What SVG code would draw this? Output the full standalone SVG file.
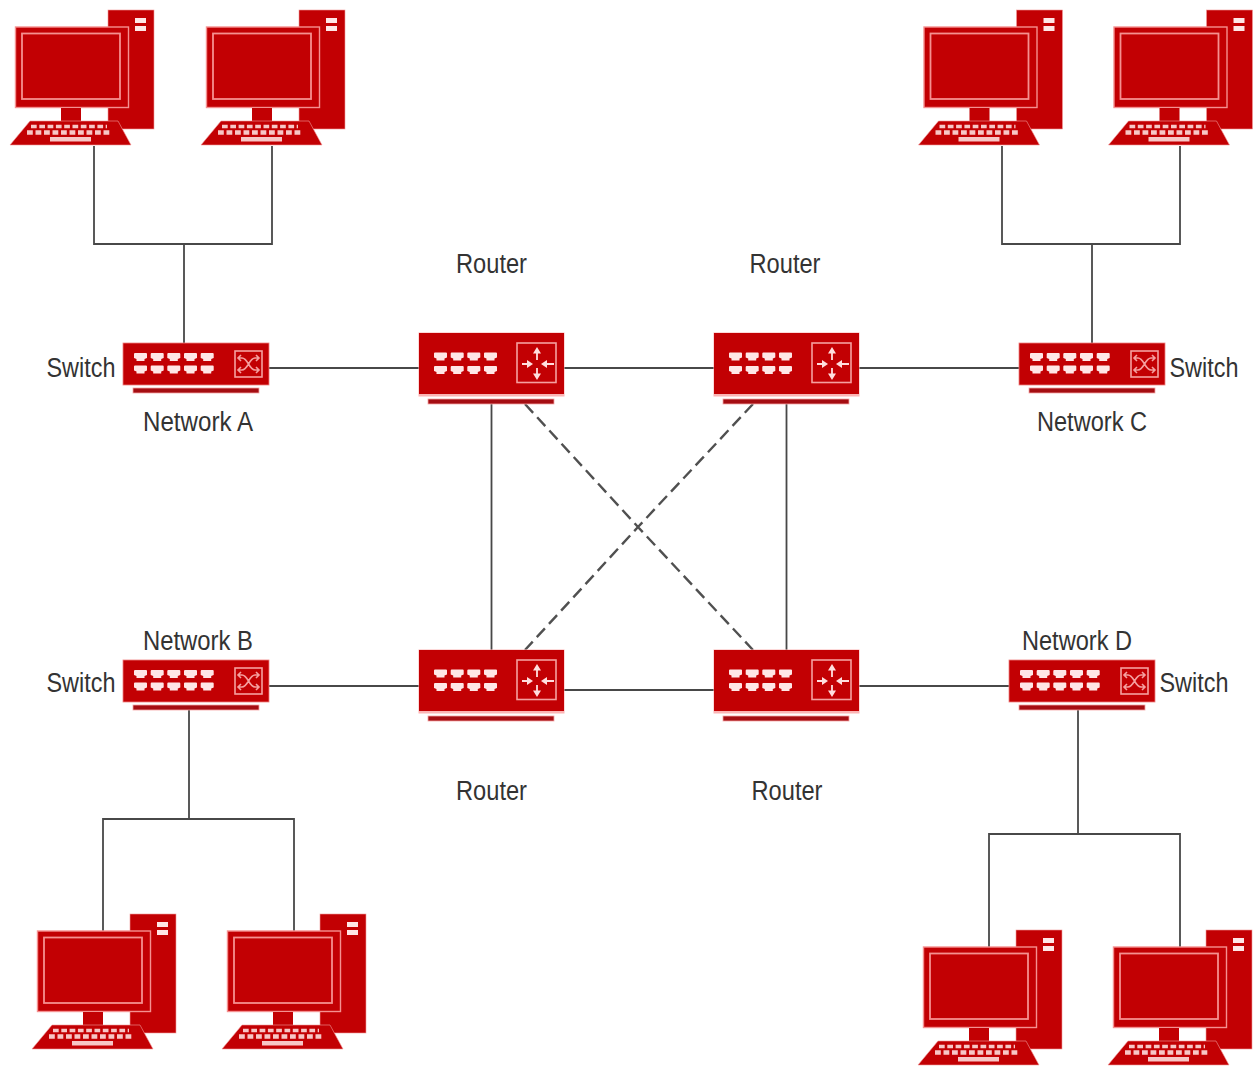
<svg xmlns="http://www.w3.org/2000/svg" width="1253" height="1066" viewBox="0 0 1253 1066">
<style>
.r{fill:#c20003}
.d{fill:#a50d12;stroke:#f5a5a5;stroke-width:.8}
.o{fill:none;stroke:#f59090;stroke-width:1.8}
.p{fill:#ffe6e6}
.ic{fill:none;stroke:#f5a0a0;stroke-width:1.6}
.a{fill:none;stroke:#ffdede;stroke-width:1.8}
.h{fill:#ffdede}
.w{stroke:#484848;stroke-width:1.8;fill:none}
.dash{stroke:#505050;stroke-width:2.4;stroke-dasharray:12 6}
text{font-family:"Liberation Sans",Arial,sans-serif;font-size:27px;fill:#333;text-anchor:middle}
</style>
<defs>
<g id="pc">
<rect class="r" x="108" y="10" width="46" height="119" stroke="#f29a9a" stroke-width=".6"/>
<rect x="135" y="18" width="11" height="5" class="p"/><rect x="135" y="26" width="11" height="5" class="p"/>
<rect class="r" x="15.500" y="27" width="113" height="80.500" stroke="#f59090" stroke-width="1.4"/>
<rect class="o" x="22" y="33.500" width="98" height="65.500"/>
<rect class="r" x="61" y="108" width="20" height="13"/>
<path class="r" stroke="#f29a9a" stroke-width=".6" d="M30 121H118L131 145H10Z"/>
<g stroke="#f7c6c6" fill="none">
<path stroke-width="3.600" stroke-dasharray="5.700 2.600" d="M31 126.500H107"/><path stroke-width="4.500" stroke-dasharray="5.800 2.700" d="M27 132.500H112"/>
</g>
<rect x="50" y="137" width="41" height="4.500" fill="#f7c6c6"/>
</g>
<path id="port" class="p" d="M0 1Q0 0 1 0H12Q13 0 13 1V5L10.500 6V8H2.500V6L0 5Z"/>
<g id="sw">
<rect class="r" x="0" y="0" width="146" height="42" stroke="#f08080" stroke-width=".8"/>
<rect class="d" x="10" y="45" width="126" height="5"/>
<use href="#port" x="11" y="10"/><use href="#port" x="27.700" y="10"/><use href="#port" x="44.300" y="10"/><use href="#port" x="61" y="10"/><use href="#port" x="77.700" y="10"/>
<use href="#port" x="11" y="22.500"/><use href="#port" x="27.700" y="22.500"/><use href="#port" x="44.300" y="22.500"/><use href="#port" x="61" y="22.500"/><use href="#port" x="77.700" y="22.500"/>
<rect class="ic" x="112" y="8" width="27" height="26"/>
<path class="ic" d="M115 15H119C125 15 126 27 132 27H136M115 27H119C125 27 126 15 132 15H136M133 12L136 15L133 18M133 24L136 27L133 30M118 12L115 15L118 18M118 24L115 27L118 30"/>
</g>
<g id="rt">
<rect x="-.5" y="-.5" width="146" height="64" fill="#fbb4b4"/>
<rect class="r" x="0" y="0" width="145" height="61"/>
<rect class="d" x="9" y="66" width="126" height="5"/>
<use href="#port" x="15" y="19.500"/><use href="#port" x="31.700" y="19.500"/><use href="#port" x="48.300" y="19.500"/><use href="#port" x="65" y="19.500"/>
<use href="#port" x="15" y="33"/><use href="#port" x="31.700" y="33"/><use href="#port" x="48.300" y="33"/><use href="#port" x="65" y="33"/>
<rect class="ic" x="98" y="10" width="39" height="39.500"/>
<path class="a" d="M118 20V27M118 35V42M103 31H110M135 31H128"/>
<path class="h" d="M118 14L122 20.500H114ZM118 47L114 40.500H122ZM114 31L108 35V27ZM122 31L128 27V35Z"/>
</g>
</defs>
<rect width="1253" height="1066" fill="#fff"/>
<g id="connectors" class="w">
<path class="w" d="M94 146V244H272V146M184 244V343"/>
<path class="w" d="M1002 146V244H1180V146M1092 244V343"/>
<path class="w" d="M103 934V819H294V934M189 710V819"/>
<path class="w" d="M989 950V834H1180V950M1078 710V834"/>
<path class="w" d="M269 368H419M564 368H714M859 368H1019"/>
<path class="w" d="M269 686H419M564 690H714M859 686H1009"/>
<path class="w" d="M491.500 404V650M786.500 404V650"/>
<path class="dash" d="M525 404L638 527L753 650M753 404L638 527L525 650"/>
</g>
<g id="pc-a1"><use href="#pc"/></g>
<g id="pc-a2"><use href="#pc" x="191"/></g>
<g id="pc-c1"><use href="#pc" x="908.500"/></g>
<g id="pc-c2"><use href="#pc" x="1098.500"/></g>
<g id="pc-b1"><use href="#pc" x="22" y="904"/></g>
<g id="pc-b2"><use href="#pc" x="212" y="904"/></g>
<g id="pc-d1"><use href="#pc" x="908" y="920"/></g>
<g id="pc-d2"><use href="#pc" x="1098" y="920"/></g>
<g id="switch-a"><use href="#sw" x="123" y="343"/><text x="81" y="377" textLength="69" lengthAdjust="spacingAndGlyphs">Switch</text><text x="198" y="431" textLength="110" lengthAdjust="spacingAndGlyphs">Network A</text></g>
<g id="switch-c"><use href="#sw" x="1019" y="343"/><text x="1204" y="377" textLength="69" lengthAdjust="spacingAndGlyphs">Switch</text><text x="1092" y="431" textLength="110" lengthAdjust="spacingAndGlyphs">Network C</text></g>
<g id="switch-b"><use href="#sw" x="123" y="660"/><text x="81" y="692" textLength="69" lengthAdjust="spacingAndGlyphs">Switch</text><text x="198" y="650" textLength="110" lengthAdjust="spacingAndGlyphs">Network B</text></g>
<g id="switch-d"><use href="#sw" x="1009" y="660"/><text x="1194" y="692" textLength="69" lengthAdjust="spacingAndGlyphs">Switch</text><text x="1077" y="650" textLength="110" lengthAdjust="spacingAndGlyphs">Network D</text></g>
<g id="router-1"><use href="#rt" x="419" y="333"/><text x="491.500" y="273" textLength="71" lengthAdjust="spacingAndGlyphs">Router</text></g>
<g id="router-2"><use href="#rt" x="714" y="333"/><text x="785" y="273" textLength="71" lengthAdjust="spacingAndGlyphs">Router</text></g>
<g id="router-3"><use href="#rt" x="419" y="650"/><text x="491.500" y="800" textLength="71" lengthAdjust="spacingAndGlyphs">Router</text></g>
<g id="router-4"><use href="#rt" x="714" y="650"/><text x="787" y="800" textLength="71" lengthAdjust="spacingAndGlyphs">Router</text></g>
</svg>
